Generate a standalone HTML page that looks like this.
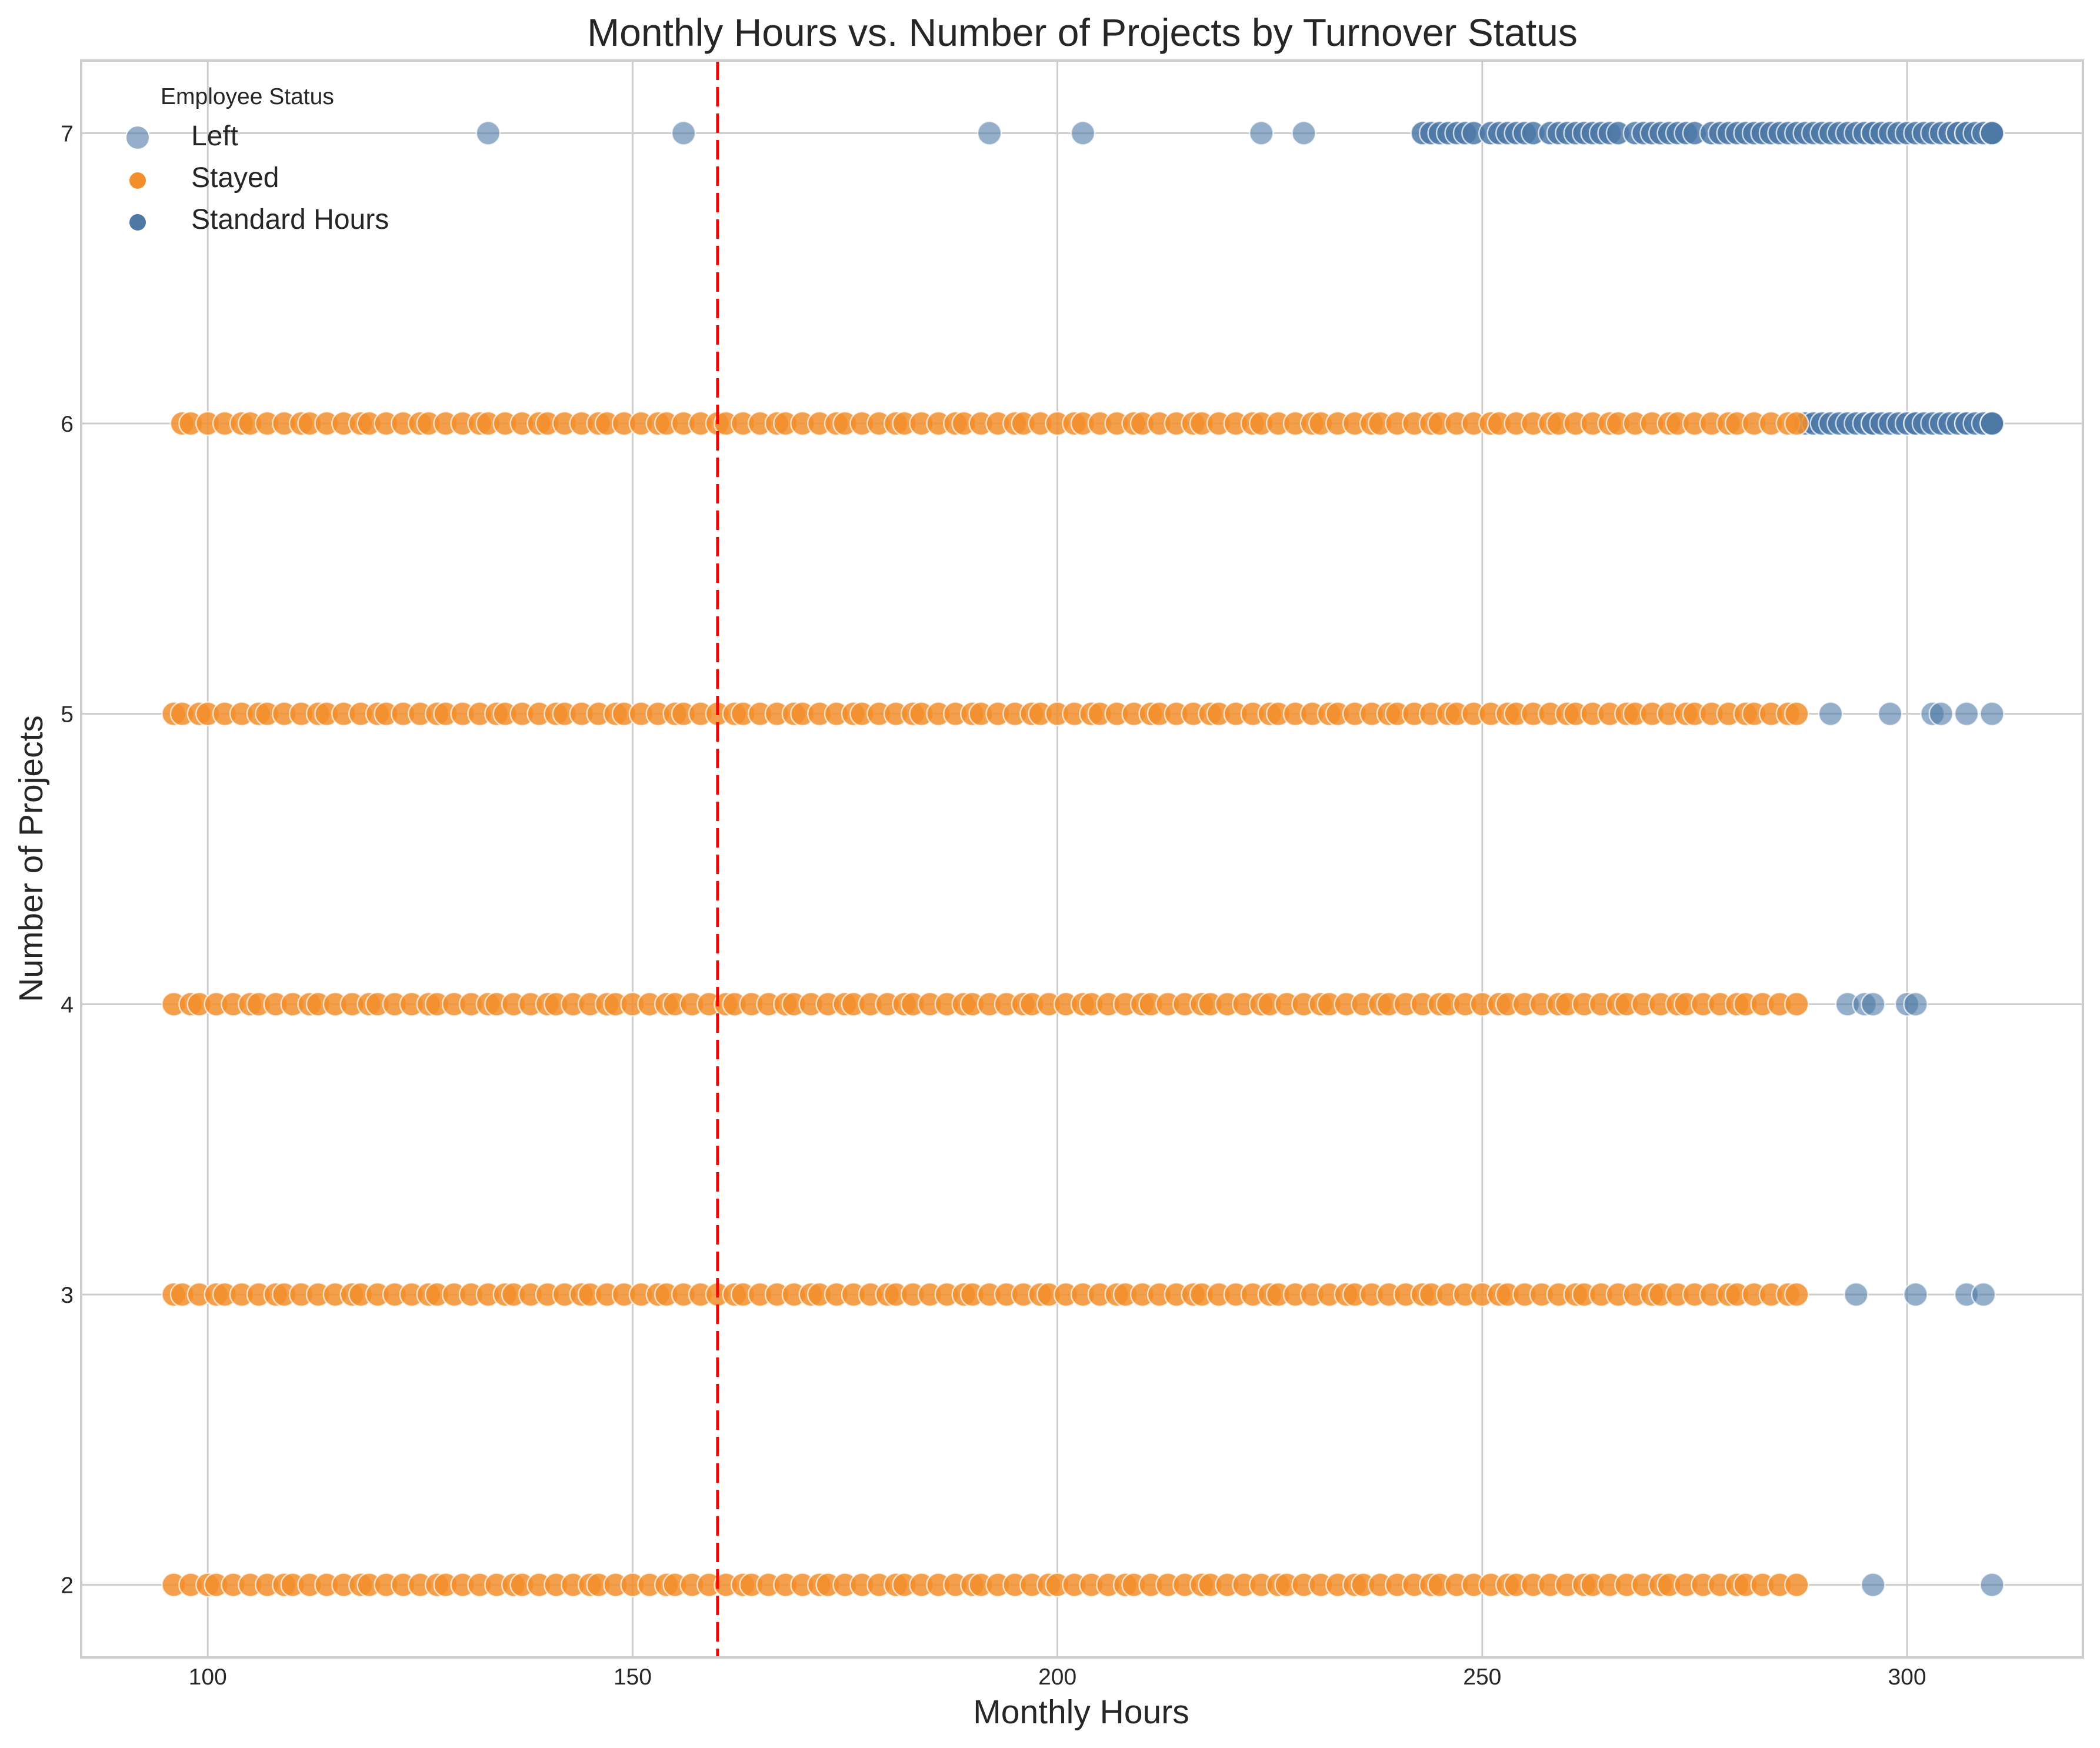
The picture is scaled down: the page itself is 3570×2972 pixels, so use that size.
<!DOCTYPE html>
<html>
<head>
<meta charset="utf-8">
<style>
html,body{margin:0;padding:0;background:#fff;}
svg{display:block;font-family:"Liberation Sans",Arial,sans-serif;}
</style>
</head>
<body>
<svg id="chart" width="3570" height="2972" viewBox="0 0 3570 2972" xmlns="http://www.w3.org/2000/svg">
  <rect x="0" y="0" width="3570" height="2972" fill="#ffffff"/>
  <g id="grid"></g>
  <g id="points"></g>
  <g id="refline"></g>
  <rect x="138" y="103" width="3403" height="2715" fill="none" stroke="#cccccc" stroke-width="4"/>
  <g id="ticks"></g>
  <text x="1840" y="78" text-anchor="middle" font-size="66" fill="#262626">Monthly Hours vs. Number of Projects by Turnover Status</text>
  <text x="1838" y="2930" text-anchor="middle" font-size="57" fill="#262626">Monthly Hours</text>
  <text transform="translate(72,1460) rotate(-90)" text-anchor="middle" font-size="57" fill="#262626">Number of Projects</text>
  <g>
    <text x="273" y="177" font-size="39" fill="#262626">Employee Status</text>
    <g>
      <circle cx="234" cy="234" r="20" fill="#4e79a7" fill-opacity="0.6" stroke="#ffffff" stroke-width="2"/>
      <text x="325" y="247" font-size="48" fill="#262626">Left</text>
    </g>
    <g>
      <circle cx="234" cy="307" r="14" fill="#f28e2b"/>
      <text x="325" y="318" font-size="48" fill="#262626">Stayed</text>
    </g>
    <g>
      <circle cx="234" cy="378" r="14" fill="#4e79a7"/>
      <text x="325" y="389" font-size="48" fill="#262626">Standard Hours</text>
    </g>
  </g>
</svg>
<script>
const xTicks = [100, 150, 200, 250, 300];
const yTicks = [2, 3, 4, 5, 6, 7];
const standardHours = 160;

const stayed2 = [96,98,100,101,103,105,107,109,110,112,114,116,118,119,121,123,125,127,128,130,132,134,136,137,139,141,143,145,146,148,150,152,154,155,157,159,161,163,164,166,168,170,172,173,175,177,179,181,182,184,186,188,190,191,193,195,197,199,200,202,204,206,208,209,211,213,215,217,218,220,222,224,226,227,229,231,233,235,236,238,240,242,244,245,247,249,251,253,254,256,258,260,262,263,265,267,269,271,272,274,276,278,280,281,283,285,287];
const stayed3 = [96,97,99,101,102,104,106,108,109,111,113,115,117,118,120,122,124,126,127,129,131,133,135,136,138,140,142,144,145,147,149,151,153,154,156,158,160,162,163,165,167,169,171,172,174,176,178,180,181,183,185,187,189,190,192,194,196,198,199,201,203,205,207,208,210,212,214,216,217,219,221,223,225,226,228,230,232,234,235,237,239,241,243,244,246,248,250,252,253,255,257,259,261,262,264,266,268,270,271,273,275,277,279,280,282,284,286,287];
const stayed4 = [96,98,99,101,103,105,106,108,110,112,113,115,117,119,120,122,124,126,127,129,131,133,134,136,138,140,141,143,145,147,148,150,152,154,155,157,159,161,162,164,166,168,169,171,173,175,176,178,180,182,183,185,187,189,190,192,194,196,197,199,201,203,204,206,208,210,211,213,215,217,218,220,222,224,225,227,229,231,232,234,236,238,239,241,243,245,246,248,250,252,253,255,257,259,260,262,264,266,267,269,271,273,274,276,278,280,281,283,285,287];
const stayed5 = [96,97,99,100,102,104,106,107,109,111,113,114,116,118,120,121,123,125,127,128,130,132,134,135,137,139,141,142,144,146,148,149,151,153,155,156,158,160,162,163,165,167,169,170,172,174,176,177,179,181,183,184,186,188,190,191,193,195,197,198,200,202,204,205,207,209,211,212,214,216,218,219,221,223,225,226,228,230,232,233,235,237,239,240,242,244,246,247,249,251,253,254,256,258,260,261,263,265,267,268,270,272,274,275,277,279,281,282,284,286,287];
const stayed6 = [97,98,100,102,104,105,107,109,111,112,114,116,118,119,121,123,125,126,128,130,132,133,135,137,139,140,142,144,146,147,149,151,153,154,156,158,160,161,163,165,167,168,170,172,174,175,177,179,181,182,184,186,188,189,191,193,195,196,198,200,202,203,205,207,209,210,212,214,216,217,219,221,223,224,226,228,230,231,233,235,237,238,240,242,244,245,247,249,251,252,254,256,258,259,261,263,265,266,268,270,272,273,275,277,279,280,282,284,286,287];

const left2 = [296,310];
const left3 = [294,301,307,309];
const left4 = [293,295,296,300,301];
const left5 = [291,298,303,304,307,310];
const left6 = [288,289,290,291,292,293,294,295,296,296,297,298,299,300,301,301,302,303,304,305,306,307,307,308,309,310,310,310];
const left7Sparse = [133,156,192,203,224,229];
const left7 = [243,244,245,246,247,248,249,251,252,253,254,255,256,258,259,260,261,262,263,264,265,266,268,269,270,271,272,273,274,275,277,278,279,280,281,282,283,284,285,286,287,288,289,290,291,292,293,294,295,296,296,297,298,299,300,301,302,303,304,305,306,306,307,307,308,309,310,310,310];

const X0 = 138, X1 = 3541, Y0 = 103, Y1 = 2818;
const xMin = 85.1, xMax = 320.7, yMin = 1.75, yMax = 7.25;
function xScale(v){ return X0 + (v - xMin) / (xMax - xMin) * (X1 - X0); }
function yScale(v){ return Y1 - (v - yMin) / (yMax - yMin) * (Y1 - Y0); }

const NS = "http://www.w3.org/2000/svg";
function mk(tag, attrs, parent){
  const el = document.createElementNS(NS, tag);
  for (const k in attrs) el.setAttribute(k, attrs[k]);
  parent.appendChild(el);
  return el;
}

const grid = document.getElementById('grid');
const ticks = document.getElementById('ticks');
xTicks.forEach(t => {
  const l = mk('line', {x1: xScale(t), x2: xScale(t), y1: Y0, y2: Y1, stroke: '#cccccc', 'stroke-width': 3}, grid);
  
  
  const tx = mk('text', {x: xScale(t), y: 2864, 'text-anchor': 'middle', 'font-size': 39, fill: '#262626'}, ticks);
  tx.textContent = String(t);
  
  
});
yTicks.forEach(t => {
  const l = mk('line', {x1: X0, x2: X1, y1: yScale(t), y2: yScale(t), stroke: '#cccccc', 'stroke-width': 3}, grid);
  
  
  const tx = mk('text', {x: 125, y: yScale(t) + 14, 'text-anchor': 'end', 'font-size': 39, fill: '#262626'}, ticks);
  tx.textContent = String(t);
  
  
});

const pts = document.getElementById('points');
function drawSeries(xs, proj, color, op, name){
  const g = mk('g', {}, pts);
  
  
  xs.forEach(v => {
    const c = mk('circle', {cx: xScale(v), cy: yScale(proj), r: 20, fill: color, 'fill-opacity': op, stroke: '#ffffff', 'stroke-opacity': 0.7, 'stroke-width': 2.5}, g);
    
    
  });
}
const LEFT = '#4e79a7', STAY = '#f28e2b';
drawSeries(left7Sparse, 7, LEFT, 0.6, 'left-series-7-sparse');
drawSeries(left7, 7, LEFT, 0.85, 'left-series-7');
drawSeries(left6, 6, LEFT, 0.85, 'left-series-6');
drawSeries(left5, 5, LEFT, 0.6, 'left-series-5');
drawSeries(left4, 4, LEFT, 0.6, 'left-series-4');
drawSeries(left3, 3, LEFT, 0.6, 'left-series-3');
drawSeries(left2, 2, LEFT, 0.6, 'left-series-2');
drawSeries(stayed6, 6, STAY, 0.85, 'stayed-series-6');
drawSeries(stayed5, 5, STAY, 0.85, 'stayed-series-5');
drawSeries(stayed4, 4, STAY, 0.85, 'stayed-series-4');
drawSeries(stayed3, 3, STAY, 0.85, 'stayed-series-3');
drawSeries(stayed2, 2, STAY, 0.85, 'stayed-series-2');

const ref = document.getElementById('refline');
const rl = mk('line', {x1: xScale(standardHours), x2: xScale(standardHours), y1: Y0, y2: Y1, stroke: '#ff0000', 'stroke-width': 5, 'stroke-dasharray': '33 12'}, ref);


</script>
</body>
</html>
